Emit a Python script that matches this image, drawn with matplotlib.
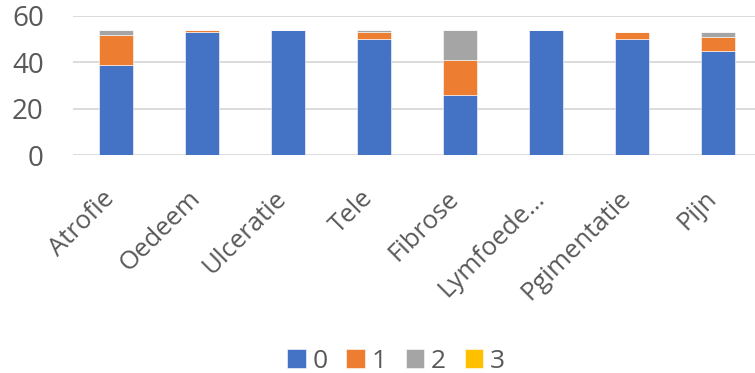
import matplotlib
matplotlib.use("Agg")
import matplotlib.pyplot as plt
import matplotlib.transforms as mtransforms
import numpy as np

categories = ["Atrofie", "Oedeem", "Ulceratie", "Tele", "Fibrose",
              "Lymfoede\u2026", "Pgimentatie", "Pijn"]
score_0 = [39, 53, 54, 50, 26, 54, 50, 45]
score_1 = [13, 1, 0, 3, 15, 0, 3, 6]
score_2 = [2, 0, 0, 1, 13, 0, 0, 2]
score_3 = [0, 0, 0, 0, 0, 0, 0, 0]
series_names = ["0", "1", "2", "3"]
colors = ["#4472C4", "#ED7D31", "#A5A5A5", "#FFC000"]
yticks = [0, 20, 40, 60]

plt.rcParams["font.family"] = ["Open Sans", "DejaVu Sans"]
text_color = "#595959"

fig = plt.figure(figsize=(7.55, 3.73), dpi=100)
# plot area runs a little past the right edge of the canvas
ax = fig.add_axes([73 / 755, 1 - 155 / 373, 688 / 755, 139 / 373])

x = np.arange(len(categories))
bottom = np.zeros(len(categories))
handles = []
for name, vals, col in zip(series_names, [score_0, score_1, score_2, score_3], colors):
    bars = ax.bar(x, vals, width=0.4, bottom=bottom, color=col,
                  edgecolor="white", linewidth=0.4, label=name, zorder=3)
    handles.append(bars)
    bottom += np.array(vals)

ax.set_xlim(-0.5, len(categories) - 0.5)
ax.set_ylim(0, 60)
ax.set_yticks(yticks)
ax.yaxis.grid(True, color="#D9D9D9", linewidth=1.3, zorder=0)
for side in ["top", "right", "left", "bottom"]:
    ax.spines[side].set_visible(False)
ax.tick_params(axis="y", length=0, labelsize=20, colors=text_color, pad=21)
ax.tick_params(axis="x", length=0, labelsize=18.5, colors=text_color, pad=10)

ax.set_xticks(x)
ax.set_xticklabels(categories, rotation=45, ha="right", rotation_mode="anchor")
# nudge the slanted category names down and to the left
shift = mtransforms.ScaledTranslation(-14 / 100, -17 / 100, fig.dpi_scale_trans)
for lbl in ax.get_xticklabels():
    lbl.set_transform(lbl.get_transform() + shift)

fig.legend(handles, series_names, loc="center", bbox_to_anchor=(396 / 755, 1 - 361 / 373),
           ncol=4, frameon=False, fontsize=19, handlelength=0.7, handleheight=0.7,
           handletextpad=0.25, columnspacing=0.72, labelcolor=text_color)

fig.savefig("out.png", dpi=100)
